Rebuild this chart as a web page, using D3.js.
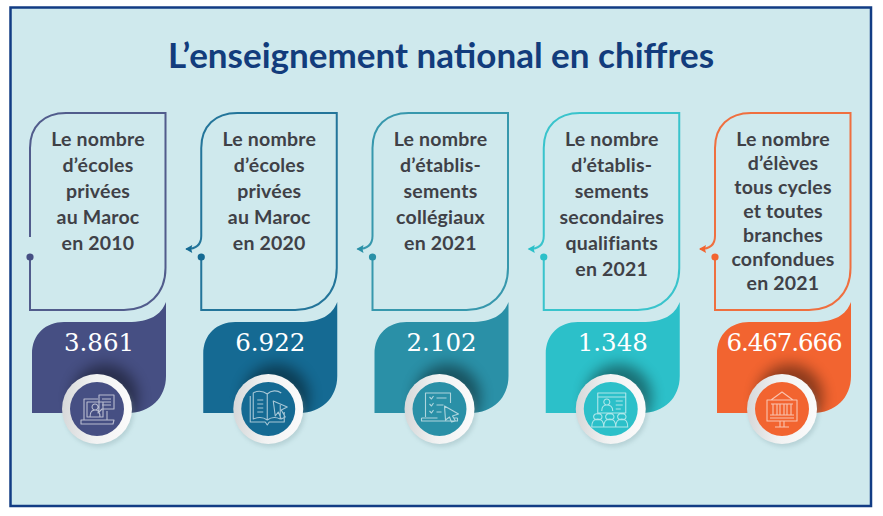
<!DOCTYPE html>
<html>
<head>
<meta charset="utf-8">
<script src="https://cdnjs.cloudflare.com/ajax/libs/d3/7.8.5/d3.min.js"></script>
<style>
  html, body { margin: 0; padding: 0; background: #fff; overflow: hidden; }
  svg { display: block; }
  .label { font-family: Lato, sans-serif; font-weight: 700; font-size: 19.5px; letter-spacing: 0.2px; fill: #3f4147; text-anchor: middle; }
  .value { font-family: "DejaVu Serif", serif; font-size: 24.5px; fill: #fff; text-anchor: middle; }
  .title { font-family: Lato, sans-serif; font-weight: 700; font-size: 35px; fill: #123c7c; text-anchor: middle; }
</style>
</head>
<body>
<div id="chart"></div>
<script>
var width = 883, height = 516;

var title = "L’enseignement national en chiffres";
var categories = ["ecoles2010", "ecoles2020", "colleges2021", "lycees2021", "eleves2021"];
var values = [3861, 6922, 2102, 1348, 6467666];
var labels = [
  ["Le nombre", "d’écoles", "privées", "au Maroc", "en 2010"],
  ["Le nombre", "d’écoles", "privées", "au Maroc", "en 2020"],
  ["Le nombre", "d’établis-", "sements", "collégiaux", "en 2021"],
  ["Le nombre", "d’établis-", "sements", "secondaires", "qualifiants", "en 2021"],
  ["Le nombre", "d’élèves", "tous cycles", "et toutes", "branches", "confondues", "en 2021"]
];
var colors = ["#464f83", "#156a93", "#2a90a7", "#2cc0c9", "#f26430"];
var iconKinds = ["teacher", "book", "checklist", "classroom", "museum"];

// dotted thousands, as printed
var fmt = d3.formatLocale({ decimal: ",", thousands: ".", grouping: [3], currency: ["", ""] }).format(",d");

var panelPath = "M2,413 L2,354 C2,334 16,322 34,322 L98,322 C120,322 131,315 136,302 L136,376 C136,398 120,413 98,413 Z";

var svg = d3.select("#chart").append("svg").attr("width", width).attr("height", height);
var defs = svg.append("defs");

var ring = defs.append("linearGradient").attr("id", "ring")
  .attr("x1", 0).attr("y1", 0.5).attr("x2", 1).attr("y2", 0.5);
ring.append("stop").attr("offset", "0%").attr("stop-color", "#d6d8d9");
ring.append("stop").attr("offset", "45%").attr("stop-color", "#f1f2f2");
ring.append("stop").attr("offset", "100%").attr("stop-color", "#fbfbfb");

var blur = defs.append("filter").attr("id", "soft")
  .attr("x", "-50%").attr("y", "-50%").attr("width", "200%").attr("height", "200%");
blur.append("feGaussianBlur").attr("stdDeviation", 7);

var blurSmall = defs.append("filter").attr("id", "softSmall")
  .attr("x", "-30%").attr("y", "-30%").attr("width", "160%").attr("height", "160%");
blurSmall.append("feGaussianBlur").attr("stdDeviation", 2);

// the dark halo stays on the panel, it does not spill on the background
defs.append("clipPath").attr("id", "panelClip").append("path").attr("d", panelPath);

svg.append("rect").attr("x", 10.5).attr("y", 7.5).attr("width", 860.5).attr("height", 498.5)
  .attr("fill", "#cfe9ed").attr("stroke", "#123c84").attr("stroke-width", 2.5);

svg.append("text").attr("class", "title").attr("x", 441).attr("y", 68).text(title);

var x = d3.scalePoint().domain(categories).range([30, 715]);

var cards = svg.selectAll(".card")
  .data(categories.map(function (c, i) {
    return { key: c, i: i, value: values[i], label: labels[i], color: colors[i], icon: iconKinds[i] };
  }))
  .enter().append("g")
  .attr("class", "card")
  .attr("transform", function (d) { return "translate(" + x(d.key) + ",0)"; });

// speech bubble outline, left edge broken by the dot and the arrow
cards.append("path")
  .attr("fill", "none")
  .attr("stroke", function (d) { return d.color; })
  .attr("stroke-opacity", 0.92)
  .attr("stroke-width", 2)
  .attr("d", function (d) {
    var tail = d.i === 0
      ? "M0,237"
      : "M-15,249 C-6,249 0,246 0,236";
    return tail + " L0,148 C0,126 14,113 36,113 L135.5,113 L135.5,268 C135.5,294 118,310 94,310 L0,310 L0,257";
  });

cards.filter(function (d) { return d.i > 0; }).append("path")
  .attr("fill", function (d) { return d.color; })
  .attr("d", "M-16,249 L-9,245 L-10,249 L-9,253 Z");

cards.append("circle").attr("cx", 0).attr("cy", 257).attr("r", 3.6)
  .attr("fill", function (d) { return d.color; });

cards.each(function (d) {
  var g = d3.select(this);
  var step = d.label.length > 6 ? 24 : 26;
  g.selectAll(".label").data(d.label).enter().append("text")
    .attr("class", "label")
    .attr("x", 68)
    .attr("y", function (t, j) { return 146 + j * step; })
    .text(function (t) { return t; });
});

// value panel
cards.append("path")
  .attr("fill", function (d) { return d.color; })
  .attr("d", panelPath);

cards.append("text").attr("class", "value")
  .attr("x", 69).attr("y", 351)
  .style("letter-spacing", function (d) { return d.value >= 1e6 ? "-1.1px" : null; })
  .text(function (d) { return fmt(d.value); });

// halo, then medallion
cards.append("g").attr("clip-path", "url(#panelClip)")
  .append("circle").attr("cx", 75).attr("cy", 397).attr("r", 33)
  .attr("fill", "#000").attr("opacity", 0.42).attr("filter", "url(#soft)");

var medal = cards.append("g").attr("transform", "translate(67,409)");

medal.append("circle").attr("cx", 2).attr("cy", 3).attr("r", 35)
  .attr("fill", "#7f9ea3").attr("opacity", 0.3).attr("filter", "url(#softSmall)");
medal.append("circle").attr("r", 35).attr("fill", "url(#ring)");
medal.append("circle").attr("r", 27).attr("fill", function (d) { return d.color; });

var icon = medal.append("g")
  .attr("fill", "none").attr("stroke", "#fff").attr("stroke-opacity", 0.62)
  .attr("stroke-width", 1.1).attr("stroke-linejoin", "round");

var iconPaths = {
  teacher: "M-13,11 L-13,-10 L1,-10 M10,2 L10,11 M-16,11 L17,11 L16,15 L-16,15 Z M-10,8 L-10,-7 L6,-7 L6,8 Z M-7,8 C-7,2 -4,1 -2,1 C1,1 3,3 3,8 M-2,-5 A3,3 0 1 1 -1.9,1 A3,3 0 1 1 -2,-5 M2,-14 L17,-14 L17,0 L5,0 L1,4 L2,0 Z M5,-10 L14,-10 M5,-7 L14,-7 M5,-4 L14,-4",
  book: "M-1,-15 C-6,-19 -12,-18 -15,-16 L-15,10 C-10,8 -5,8 -1,11 C3,8 8,8 12,10 L12,-4 M-1,-15 L-1,11 M-1,-15 C3,-19 9,-19 13,-16 M-18,-13 L-18,13 L-3,13 L-1,16 L1,13 L16,13 L16,3 M-11,-9 L-5,-9 M-11,-5 L-5,-5 M-11,-1 L-5,-1 M-11,3 L-5,3 M5,-8 L19,-2 L13,1 L17,8 L13,10 L10,3 L7,7 Z",
  checklist: "M-14,8 L-14,-16 L11,-16 L11,-6 M-10,-12 L-8,-10 L-6,-13 M-10,-5 L-8,-3 L-6,-6 M-10,2 L-8,4 L-6,1 M-3,-11 L7,-11 M-3,-4 L4,-4 M-3,3 L2,3 M-18,9 L-2,9 M14,9 L18,9 M-18,9 L-18,12 L18,12 L18,9 M5,-3 L19,5 L13,7 L16,12 L12,13 L10,8 L6,11 Z",
  classroom: "M-13,4 L-13,-16 L15,-16 L15,4 Z M-13,-12 L15,-12 M-9,2 C-9,-3 -6,-4 -4,-4 C-1,-4 2,-3 2,2 M-4,-10 A3,3 0 1 1 -3.9,-4 A3,3 0 1 1 -4,-10 M5,-8 L12,-8 M5,-4 L12,-4 M5,0 L10,0 M-19,18 C-19,11 -15,10 -13,10 C-10,10 -7,11 -7,18 Z M-7,18 C-7,11 -3,10 -1,10 C2,10 5,11 5,18 Z M5,18 C5,11 9,10 11,10 C14,10 17,11 17,18 Z M-13,5 A3,3 0 1 1 -12.9,10.5 A3,3 0 1 1 -13,5 M-1,5 A3,3 0 1 1 -0.9,10.5 A3,3 0 1 1 -1,5 M11,5 A3,3 0 1 1 11.1,10.5 A3,3 0 1 1 11,5",
  museum: "M-15,-9 L15,-9 L15,12 L-15,12 Z M-11,-9 L0,-17 L11,-9 M-11,-5 L11,-5 M-9,-5 L-9,6 M-5,-5 L-5,6 M-2,-5 L-2,6 M2,-5 L2,6 M5,-5 L5,6 M9,-5 L9,6 M-12,6 L12,6 M-12,9 L12,9 M-2,12 L-2,18 M2,12 L2,18 M-7,18 L7,18"
};

icon.append("path").attr("d", function (d) { return iconPaths[d.icon]; });
</script>
</body>
</html>
